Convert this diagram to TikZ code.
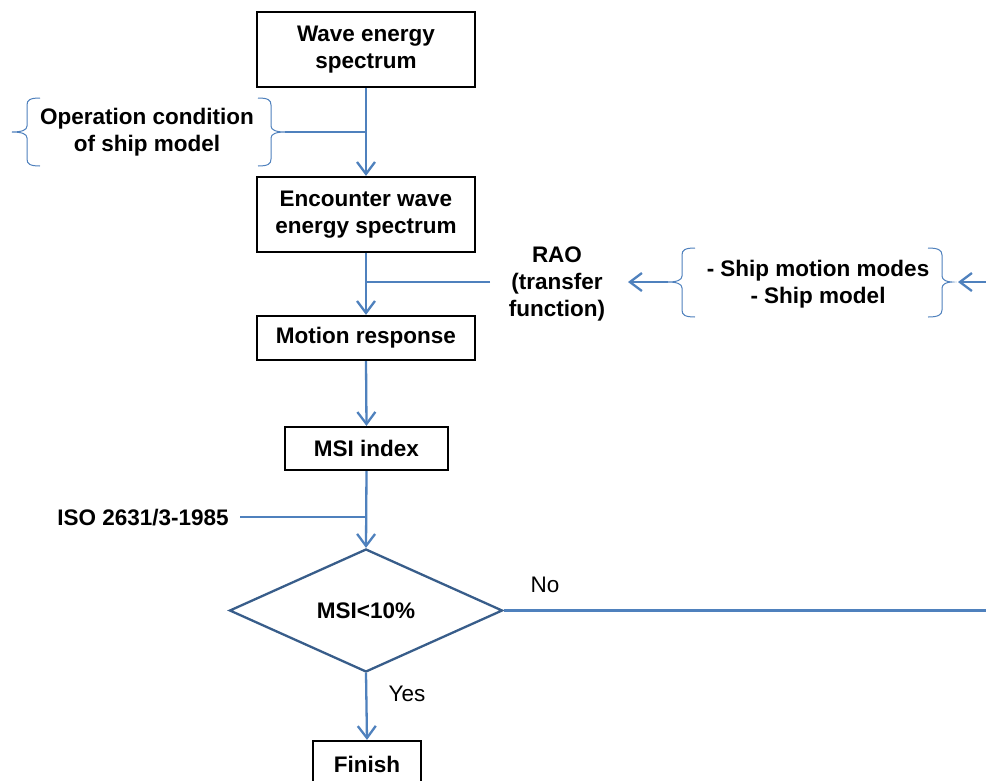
\documentclass[tikz,border=0pt]{standalone}
\usepackage{fontspec}
\setmainfont{Liberation Sans}
\usetikzlibrary{shapes.geometric,arrows.meta}
\definecolor{lnblue}{RGB}{79,129,189}
\definecolor{dkblue}{RGB}{56,93,138}
\tikzset{
  txt/.style={font=\fontsize{22.5}{27}\selectfont\bfseries, align=center, inner sep=0pt},
  plain/.style={font=\fontsize{22.5}{27}\selectfont, inner sep=0pt},
  procbox/.style={draw=black, line width=2.2pt, font=\fontsize{22.5}{27}\selectfont\bfseries, align=center, inner sep=2pt},
  conn/.style={draw=lnblue, line width=2.3pt},
  arr/.style={conn, -{Straight Barb[length=12pt,width=18pt,line width=2.3pt]}},
  brace/.style={draw=lnblue, line width=1pt},
  decide/.style={diamond, draw=dkblue, line width=2.3pt, minimum width=273pt, minimum height=123pt, inner sep=0pt, font=\fontsize{22.5}{27}\selectfont\bfseries}
}
\begin{document}
\begin{tikzpicture}[x=1pt,y=-1pt]
\useasboundingbox (0,0) rectangle (986,780);
\clip (0,0) rectangle (986,780);
\fill[white] (0,0) rectangle (986,780);

% boxes
\node[procbox, minimum width=218pt, minimum height=75pt] (wave) at (366,49.5) {Wave energy\\spectrum};
\node[procbox, minimum width=218pt, minimum height=75pt] (enc) at (366,214.5) {Encounter wave\\energy spectrum};
\node[procbox, minimum width=218pt, minimum height=44pt] (mot) at (366,338) {Motion response};
\node[procbox, minimum width=163pt, minimum height=43pt] (msi) at (366.5,448.5) {MSI index};
\node[decide] (dia) at (366,610.5) {MSI<10\%};
\node[procbox, minimum width=108pt, minimum height=46pt] (fin) at (367,764) {Finish};

% side texts
\node[txt] (op) at (147,132) {Operation condition\\of ship model};
\node[txt] (rao) at (557,284) {RAO\\(transfer\\function)};
\node[txt] (ship) at (818,284) {- Ship motion modes\\- Ship model};
\node[txt] (iso) at (143,518) {ISO 2631/3-1985};
\node[plain] (no) at (545,585) {No};
\node[plain] (yes) at (407,694) {Yes};

% braces
\coordinate (opL) at (12,132);
\coordinate (opR) at (285,132);
\draw[brace] (40,98) .. controls (30,98) and (27,100) .. (27,105) -- (27,126)
  .. controls (27,130) and (22,132) .. (opL) .. controls (22,132) and (27,134) .. (27,138)
  -- (27,159) .. controls (27,164) and (30,166) .. (40,166);
\draw[brace] (258,98) .. controls (268,98) and (271,100) .. (271,105) -- (271,126)
  .. controls (271,130) and (276,132) .. (opR) .. controls (276,132) and (271,134) .. (271,138)
  -- (271,159) .. controls (271,164) and (268,166) .. (258,166);

\coordinate (shL) at (668,282);
\coordinate (shR) at (952,282);
\draw[brace] (695,248) .. controls (685,248) and (682,250) .. (682,255) -- (682,276)
  .. controls (682,280) and (677,282) .. (shL) .. controls (677,282) and (682,284) .. (682,288)
  -- (682,310) .. controls (682,315) and (685,317) .. (695,317);
\draw[brace] (928,248) .. controls (938,248) and (942,250) .. (942,255) -- (942,276)
  .. controls (942,280) and (947,282) .. (shR) .. controls (947,282) and (942,284) .. (942,288)
  -- (942,310) .. controls (942,315) and (938,317) .. (928,317);

% connectors
\draw[arr] (wave.south) -- (enc.north);
\draw[conn] (opR) -- (opR -| wave.south);
\draw[arr] (enc.south) -- (mot.north);
\coordinate (raoin) at (490,282);
\draw[conn] (raoin) -- (raoin -| enc.south);
\coordinate (raoout) at (628,282);
\draw[arr] (shL) -- (raoout);
\coordinate (farR) at (986,282);
\draw[arr] (farR) -- (958,282);
\draw[arr] (mot.south) -- (msi.north);
\coordinate (isoin) at (240,517);
\draw[conn] (isoin) -- (isoin -| msi.south);
\draw[arr] (msi.south) -- (dia.north);
\coordinate (noend) at (986,610.5);
\draw[conn] (dia.east) -- (noend);
\draw[arr] (dia.south) -- (fin.north);
\end{tikzpicture}
\end{document}
